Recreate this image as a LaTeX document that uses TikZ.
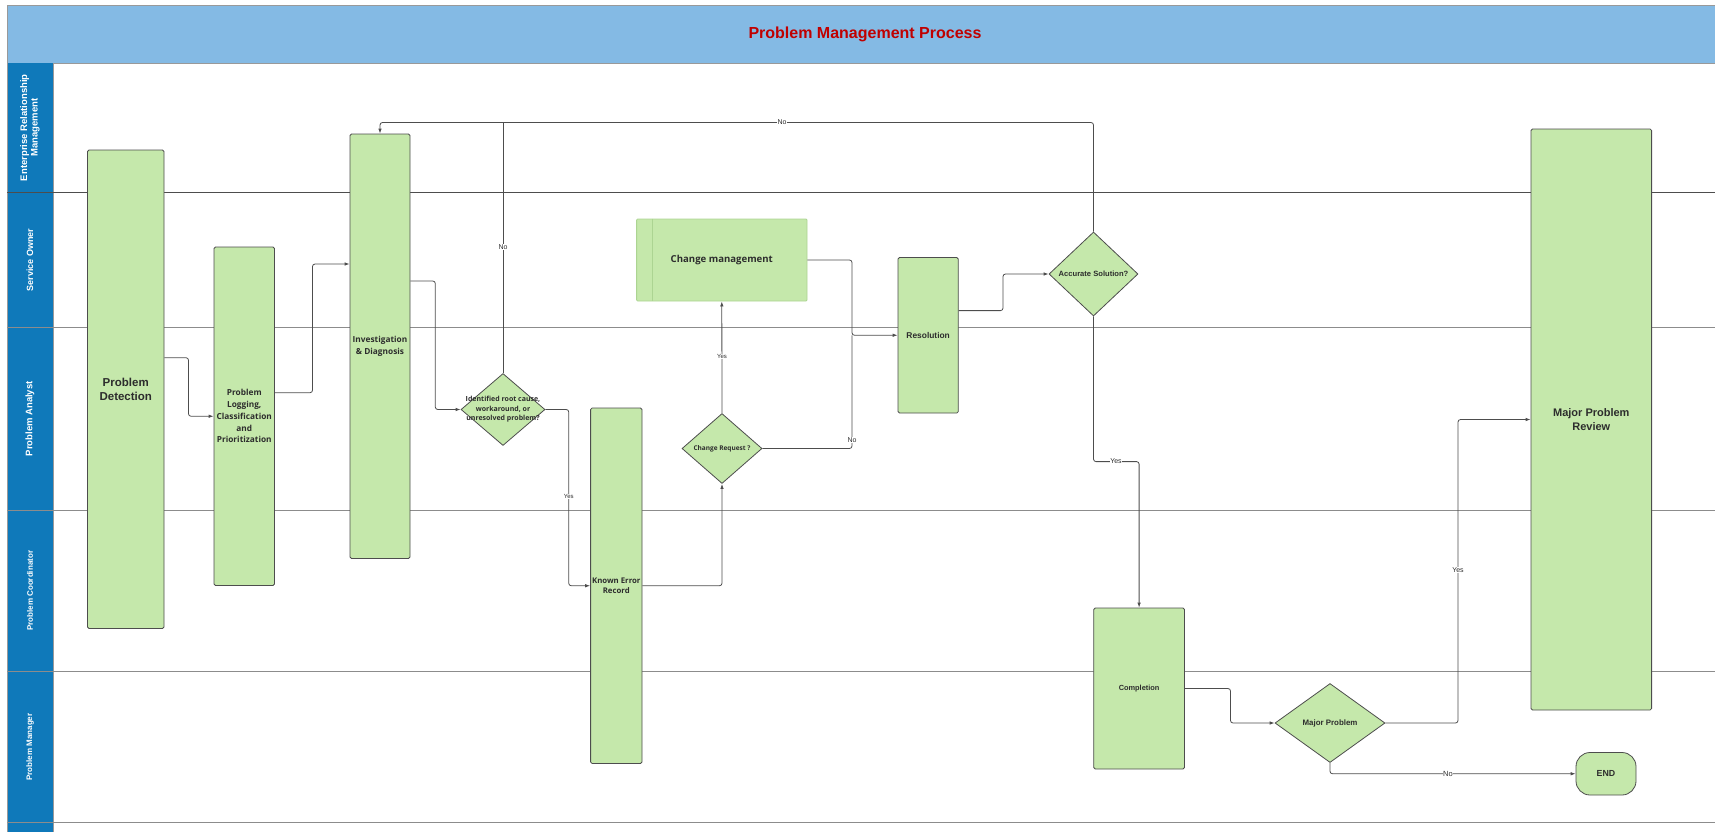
\documentclass[tikz,border=0pt]{standalone}
\usepackage{fontspec}
\setmainfont{Liberation Sans}
\newfontfamily\osans{Open Sans}
\usetikzlibrary{shapes.geometric,arrows.meta,calc}
\definecolor{hdrblue}{RGB}{132,186,228}
\definecolor{laneblue}{RGB}{15,121,186}
\definecolor{boxgreen}{RGB}{197,232,171}
\definecolor{cmedge}{RGB}{172,212,146}
\definecolor{titlered}{RGB}{192,0,0}
\definecolor{ink}{RGB}{45,45,45}
\definecolor{edge}{RGB}{77,77,77}
\definecolor{laneline}{RGB}{140,140,140}

\begin{document}
\begin{tikzpicture}[x=1pt,y=-1pt,
  stepbox/.style={draw=edge, line width=0.8pt, fill=boxgreen, rounded corners=1.5pt,
    inner sep=0pt, align=center, text=ink},
  dia/.style={draw=edge, line width=0.8pt, fill=boxgreen, shape=diamond, inner sep=0pt},
  diatext/.style={align=center, text=ink, inner sep=0pt},
  flow/.style={draw=edge, line width=0.8pt, rounded corners=2.5pt,
    -{Latex[length=5pt,width=3.5pt]}},
  link/.style={draw=edge, line width=0.8pt, rounded corners=2.5pt},
  lbl/.style={fill=white, inner sep=0.6pt, text=ink, font=\fontsize{7}{8}\selectfont},
  lanetxt/.style={rotate=90, text=white, align=center, inner sep=0pt},
]
\useasboundingbox (0,0) rectangle (1715,831);

% header band
\fill[hdrblue] (7,5) rectangle (1716,63);
\draw[gray!80, line width=1pt] (7,5) -- (1716,5);
\draw[gray!80, line width=1pt] (7,63) -- (1716,63);
\node[font=\bfseries\fontsize{16}{19}\selectfont, text=titlered] (title) at (865,34)
  {Problem Management Process};

% lane header column
\fill[laneblue] (7,63) rectangle (53,832);
\draw[gray!80, line width=1pt] (7,5) -- (7,832);
\draw[gray!80, line width=0.8pt] (53,63) -- (53,832);

% lane separators
\draw[edge, line width=1.3pt] (7,192.5) -- (1716,192.5);
\foreach \yy in {327.5,510,671.6,822.5}
  \draw[laneline, line width=1pt] (7,\yy) -- (1716,\yy);

% lane titles
\node[lanetxt, font=\bfseries\fontsize{9.5}{10.5}\selectfont] (lane1) at (30,127.75)
  {Enterprise Relationship\\Management};
\node[lanetxt, font=\bfseries\fontsize{9}{10}\selectfont] (lane2) at (30,260) {Service Owner};
\node[lanetxt, font=\bfseries\fontsize{9.5}{10}\selectfont] (lane3) at (30,418.75) {Problem Analyst};
\node[lanetxt, font=\bfseries\fontsize{8}{9}\selectfont] (lane4) at (30,590.8) {Problem Coordinator};
\node[lanetxt, font=\bfseries\fontsize{8}{9}\selectfont] (lane5) at (30,747) {Problem Manager};

% process steps
\node[stepbox, minimum width=76.5pt, minimum height=478.5pt,
  font=\bfseries\fontsize{11.5}{14}\selectfont] (det) at (125.75,389.25) {Problem\\Detection};
\node[stepbox, minimum width=60.5pt, minimum height=338.5pt,
  font=\osans\bfseries\fontsize{8.3}{11.8}\selectfont] (log) at (244.25,416.25)
  {Problem\\Logging,\\Classification\\and\\Prioritization};
\node[stepbox, minimum width=60pt, minimum height=424.5pt,
  font=\osans\bfseries\fontsize{8.3}{11.7}\selectfont] (inv) at (380,346.25)
  {Investigation\\\& Diagnosis};
\node[stepbox, minimum width=51.4pt, minimum height=355.5pt,
  font=\osans\bfseries\fontsize{7.8}{10}\selectfont] (ker) at (616.3,585.75)
  {Known Error\\Record};
\node[stepbox, draw=cmedge, rounded corners=1pt, minimum width=170.4pt, minimum height=82pt,
  font=\osans\bfseries\fontsize{9.6}{12}\selectfont] (cm) at (721.8,260) {Change management};
\draw[cmedge, line width=0.8pt] ($(cm.north west)+(16,0)$) -- ($(cm.south west)+(16,0)$);
\node[stepbox, minimum width=60.3pt, minimum height=155.5pt,
  font=\bfseries\fontsize{8.4}{10}\selectfont] (res) at (928.15,335.25) {Resolution};
\node[stepbox, minimum width=90.75pt, minimum height=161pt,
  font=\bfseries\fontsize{7.4}{9}\selectfont] (comp) at (1139.1,688.5) {Completion};
\node[stepbox, minimum width=120.6pt, minimum height=581pt,
  font=\bfseries\fontsize{11}{14.3}\selectfont] (mpr) at (1591.3,419.5)
  {Major Problem\\Review};
\node[stepbox, rounded corners=14pt, minimum width=60pt, minimum height=42.5pt,
  font=\bfseries\fontsize{8.8}{10}\selectfont] (endn) at (1606,773.75) {END};

% decisions
\node[dia, minimum width=84pt, minimum height=72pt] (d1) at (503,409.5) {};
\node[diatext, font=\osans\bfseries\fontsize{7}{9.5}\selectfont] (d1t) at (d1)
  {Identified root cause,\\workaround, or\\unresolved problem?};
\node[dia, minimum width=80pt, minimum height=70pt] (d2) at (722,448.5) {};
\node[diatext, font=\osans\bfseries\fontsize{6.5}{8}\selectfont] (d2t) at (d2) {Change Request ?};
\node[dia, minimum width=89pt, minimum height=84pt] (d3) at (1093.5,274) {};
\node[diatext, font=\bfseries\fontsize{7.6}{9}\selectfont] (d3t) at (d3) {Accurate Solution?};
\node[dia, minimum width=110pt, minimum height=79pt] (d4) at (1330,723) {};
\node[diatext, font=\bfseries\fontsize{7.9}{9}\selectfont] (d4t) at (d4) {Major Problem};

% connectors
\draw[flow] (det.east |- 0,357.7) -- (188.5,357.7) |- (log.west);
\draw[flow] (log.east |- 0,392.7) -- (312.5,392.7) |- (inv.west |- 0,264);
\draw[flow] (inv.east |- 0,281) -- (435.3,281) |- (d1.west);
\draw[link] (d1.north) -- (d1.north |- 0,122.5);
\draw[flow] (d3.north) -- (d3.north |- 0,122.5) -- (inv.north |- 0,122.5) -- (inv.north);
\draw[flow] (d1.east) -- (568.75,409.5) |- (ker.west);
\draw[flow] (ker.east) -| (d2.south);
\draw[flow] (d2.north) -- (cm.south);
\draw[flow] (cm.east) -- (852,260) |- (res.west);
\draw[link] (d2.east) -- (852,448.5) -- (852,335.25);
\draw[flow] (res.east |- 0,310.6) -- (1003,310.6) |- (d3.west);
\draw[flow] (d3.south) -- (1093.5,461.6) -| (comp.north);
\draw[flow] (comp.east) -- (1230.5,688.5) |- (d4.west);
\draw[flow] (d4.east) -- (1458,723) |- (mpr.west);
\draw[flow] (d4.south) |- (endn.west);

% connector labels
\node[lbl] (no1) at (503,247) {No};
\node[lbl] (no2) at (782,122.5) {No};
\node[lbl, font=\fontsize{6}{7}\selectfont] (yes1) at (568.75,496.6) {Yes};
\node[lbl, font=\fontsize{6}{7}\selectfont] (yes2) at (722,356.6) {Yes};
\node[lbl] (no3) at (852,440) {No};
\node[lbl] (yes3) at (1116,461.6) {Yes};
\node[lbl] (yes4) at (1458,570) {Yes};
\node[lbl, font=\fontsize{7.5}{8}\selectfont] (no4) at (1448,774.4) {No};
\end{tikzpicture}
\end{document}
